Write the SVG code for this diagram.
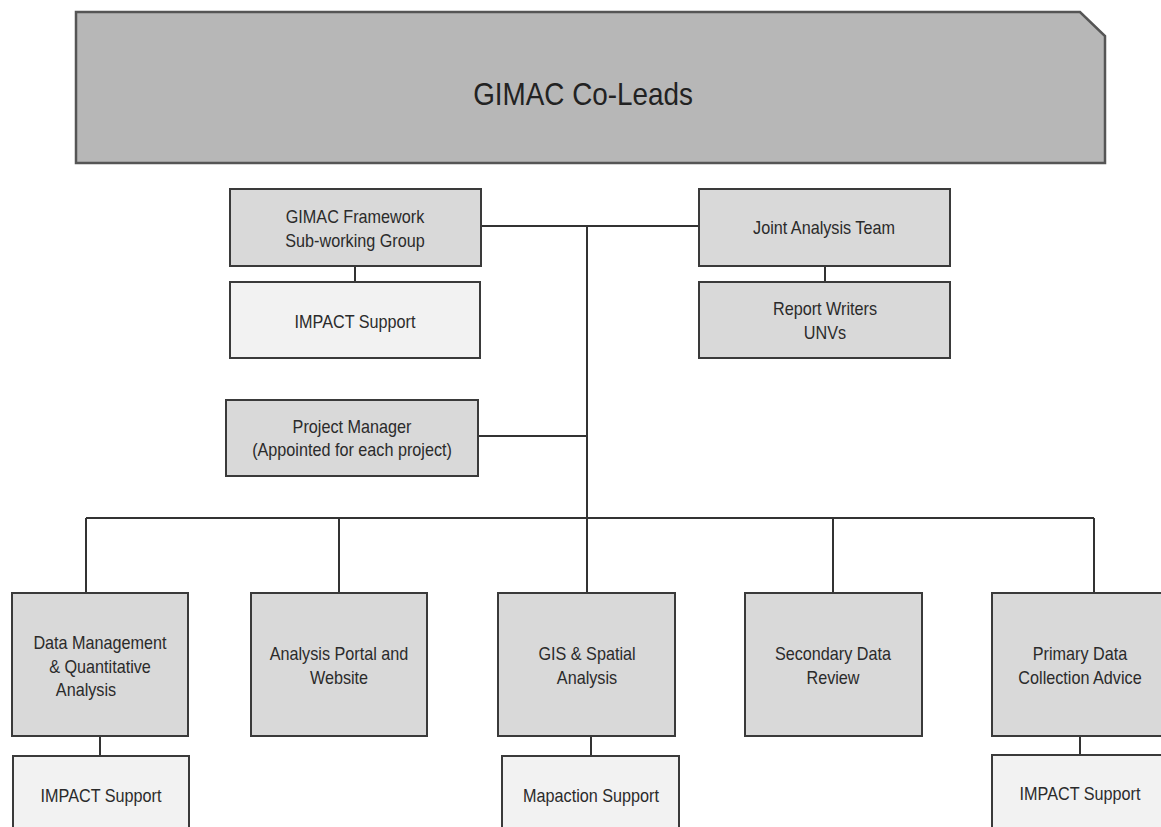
<svg xmlns="http://www.w3.org/2000/svg" width="1161" height="827" viewBox="0 0 1161 827">
<style>
.b{stroke:#3a3a3a;stroke-width:2}
.d{fill:#d9d9d9}
.l{fill:#f2f2f2}
.t{font-family:"Liberation Sans",Arial,sans-serif;font-size:18px;fill:#2b2b2b;text-anchor:middle}
.c{stroke:#333;stroke-width:2;fill:none}
</style>
<rect width="1161" height="827" fill="#fff"/>
<g id="co-leads">
<path d="M76,12 H1080 L1105,36 V163 H76 Z" fill="#b7b7b7" stroke="#555" stroke-width="2.5"/>
<text transform="matrix(0.87,0,0,1,583,105)" style="font-family:'Liberation Sans',Arial,sans-serif;font-size:32px;fill:#222;text-anchor:middle">GIMAC Co-Leads</text>
</g>
<g id="connectors">
<path class="c" d="M481,226 H699"/>
<path class="c" d="M587,226 V593"/>
<path class="c" d="M478,436 H587"/>
<path class="c" d="M86,518 H1094"/>
<path class="c" d="M86,518 V593 M339,518 V593 M833,518 V593 M1094,518 V593"/>
<path class="c" d="M355,266 V282 M825,266 V282"/>
<path class="c" d="M100,736 V756 M591,736 V756 M1080,736 V755"/>
</g>
<g id="framework">
<rect class="b d" x="230" y="189" width="251" height="77"/>
<text class="t" transform="matrix(0.9,0,0,1,355,223)">GIMAC Framework</text>
<text class="t" transform="matrix(0.9,0,0,1,355,246.5)">Sub-working Group</text>
</g>
<g id="impact-top">
<rect class="b l" x="230" y="282" width="250" height="76"/>
<text class="t" transform="matrix(0.9,0,0,1,355,328)">IMPACT Support</text>
</g>
<g id="project-manager">
<rect class="b d" x="226" y="400" width="252" height="76"/>
<text class="t" transform="matrix(0.9,0,0,1,352,433)">Project Manager</text>
<text class="t" transform="matrix(0.9,0,0,1,352,456)">(Appointed for each project)</text>
</g>
<g id="joint-analysis">
<rect class="b d" x="699" y="189" width="251" height="77"/>
<text class="t" transform="matrix(0.9,0,0,1,824,234)">Joint Analysis Team</text>
</g>
<g id="report-writers">
<rect class="b d" x="699" y="282" width="251" height="76"/>
<text class="t" transform="matrix(0.9,0,0,1,825,315)">Report Writers</text>
<text class="t" transform="matrix(0.9,0,0,1,825,339)">UNVs</text>
</g>
<g id="data-management">
<rect class="b d" x="12" y="593" width="176" height="143"/>
<text class="t" transform="matrix(0.9,0,0,1,100,649)">Data Management</text>
<text class="t" transform="matrix(0.9,0,0,1,100,672.5)">&amp; Quantitative</text>
<text class="t" transform="matrix(0.9,0,0,1,86,696)">Analysis</text>
</g>
<g id="impact-left">
<rect class="b l" x="13" y="756" width="176" height="90"/>
<text class="t" transform="matrix(0.9,0,0,1,101,801.5)">IMPACT Support</text>
</g>
<g id="portal">
<rect class="b d" x="251" y="593" width="176" height="143"/>
<text class="t" transform="matrix(0.9,0,0,1,339,660)">Analysis Portal and</text>
<text class="t" transform="matrix(0.9,0,0,1,339,683.5)">Website</text>
</g>
<g id="gis">
<rect class="b d" x="498" y="593" width="177" height="143"/>
<text class="t" transform="matrix(0.9,0,0,1,587,660)">GIS &amp; Spatial</text>
<text class="t" transform="matrix(0.9,0,0,1,587,683.5)">Analysis</text>
</g>
<g id="mapaction">
<rect class="b l" x="502" y="756" width="177" height="90"/>
<text class="t" transform="matrix(0.9,0,0,1,591,801.5)">Mapaction Support</text>
</g>
<g id="secondary">
<rect class="b d" x="745" y="593" width="177" height="143"/>
<text class="t" transform="matrix(0.9,0,0,1,833,660)">Secondary Data</text>
<text class="t" transform="matrix(0.9,0,0,1,833,683.5)">Review</text>
</g>
<g id="primary">
<rect class="b d" x="992" y="593" width="177" height="143"/>
<text class="t" transform="matrix(0.9,0,0,1,1080,660)">Primary Data</text>
<text class="t" transform="matrix(0.9,0,0,1,1080,683.5)">Collection Advice</text>
</g>
<g id="impact-right">
<rect class="b l" x="992" y="755" width="177" height="90"/>
<text class="t" transform="matrix(0.9,0,0,1,1080,800)">IMPACT Support</text>
</g>
</svg>
